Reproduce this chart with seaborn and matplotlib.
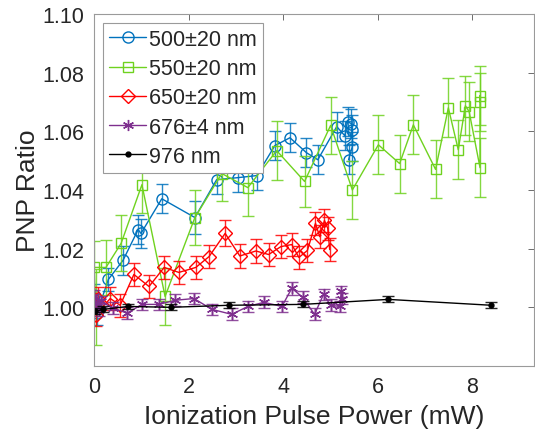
import numpy as np
import pandas as pd
import seaborn as sns
import matplotlib
matplotlib.use("Agg")
import matplotlib.pyplot as plt

# 500±20 nm
x_500 = [0.00, 0.06, 0.30, 0.61, 0.93, 0.99, 1.43, 2.13, 2.59, 3.04, 3.44, 3.82, 4.14, 4.49,
         4.73, 5.13, 5.30, 5.36, 5.44, 5.46, 5.46, 5.38]
y_500 = [1.0041, 0.9980, 1.0095, 1.0160, 1.0265, 1.0252, 1.0370, 1.0306, 1.0435, 1.0442, 1.0449,
         1.0551, 1.0578, 1.0527, 1.0503, 1.0616, 1.0585, 1.0633, 1.0626, 1.0605, 1.0548, 1.0503]
e_500 = [0.004, 0.004, 0.004, 0.005, 0.005, 0.005, 0.005, 0.0055, 0.005, 0.005, 0.005,
         0.005, 0.005, 0.005, 0.005, 0.005, 0.005, 0.005, 0.005, 0.005, 0.005, 0.005]

# 550±20 nm
x_550 = [0.03, 0.00, 0.25, 0.57, 1.01, 1.50, 2.13, 2.70, 3.25, 3.86, 4.45, 5.00, 5.46, 6.01,
         6.46, 6.75, 7.22, 7.49, 7.70, 7.85, 7.93, 8.16, 8.16, 8.16]
y_550 = [1.0000, 1.0136, 1.0136, 1.0218, 1.0418, 1.0037, 1.0306, 1.0456, 1.0408, 1.0534, 1.0429,
         1.0620, 1.0400, 1.0554, 1.0490, 1.0622, 1.0470, 1.0680, 1.0537, 1.0687, 1.0667, 1.0476,
         1.0721, 1.0700]
e_550 = [0.013, 0.009, 0.0095, 0.0095, 0.0095, 0.0097, 0.0095, 0.0095, 0.0097, 0.010, 0.0088,
         0.0097, 0.010, 0.010, 0.0099, 0.010, 0.0099, 0.010, 0.010, 0.010, 0.010, 0.010,
         0.010, 0.010]

# 650±20 nm
x_650 = [0.00, 0.08, 0.03, 0.34, 0.55, 0.84, 1.16, 1.48, 1.79, 2.15, 2.43, 2.77, 3.08, 3.42,
         3.69, 3.95, 4.18, 4.33, 4.51, 4.68, 4.77, 4.87, 4.94, 4.98]
y_650 = [1.0010, 1.0030, 0.9975, 1.0030, 1.0007, 1.0112, 1.0071, 1.0136, 1.0119, 1.0136, 1.0173,
         1.0252, 1.0175, 1.0192, 1.0180, 1.0207, 1.0214, 1.0170, 1.0194, 1.0286, 1.0241, 1.0296,
         1.0269, 1.0197]
e_650 = [0.004] * 11 + [0.0044] + [0.004] * 12

# 676±4 nm
x_676 = [0.00, 0.05, 0.10, 0.15, 0.40, 0.70, 1.01, 1.37, 1.71, 2.11, 2.49, 2.91, 3.25, 3.59,
         3.97, 4.18, 4.41, 4.66, 4.85, 5.00, 5.19, 5.23, 5.25]
y_676 = [1.0040, 1.0010, 0.9990, 1.0020, 0.9997, 0.9980, 1.0010, 1.0010, 1.0024, 1.0030, 0.9993,
         0.9976, 1.0003, 1.0017, 1.0003, 1.0065, 1.0034, 0.9976, 1.0044, 1.0007, 1.0003, 1.0054,
         1.0030]
e_676 = [0.002] * 15 + [0.0022] + [0.002] * 7

# 976 nm
x_976 = [0.02, 0.19, 0.72, 1.62, 2.85, 4.41, 6.22, 8.40]
y_976 = [0.9986, 0.9993, 1.0003, 1.0000, 1.0007, 1.0010, 1.0027, 1.0007]
e_976 = [0.001] * 8

labels = ["500\u00b120 nm", "550\u00b120 nm", "650\u00b120 nm", "676\u00b14 nm", "976 nm"]
xs = [x_500, x_550, x_650, x_676, x_976]
ys = [y_500, y_550, y_650, y_676, y_976]
es = [e_500, e_550, e_650, e_676, e_976]
colors = ["#0072BD", "#6FD21F", "#FF0000", "#7E2F8E", "#000000"]
markers = ["o", "s", "D", (6, 2, 0), "."]
msizes = [8, 7, 7, 8, 7]

frames = []
for lab, x, y, e in zip(labels, xs, ys, es):
    frames.append(pd.DataFrame({"power": x, "ratio": y, "err": e, "series": lab}))
df = pd.concat(frames, ignore_index=True)

sns.set_style("white")
plt.rcParams["font.family"] = ["Liberation Sans", "DejaVu Sans"]

fig = plt.figure(figsize=(5.35, 4.39), dpi=100)
ax = fig.add_axes([0.176, 0.164, 0.822, 0.802])

for lab, c, m, ms in zip(labels, colors, markers, msizes):
    d = df[df["series"] == lab]
    ax.errorbar(d["power"], d["ratio"], yerr=d["err"], fmt="none", ecolor=c,
                elinewidth=1.0, capsize=4, capthick=1.0, alpha=0.85)
    fc = c if lab == "976 nm" else "none"
    sns.lineplot(data=d, x="power", y="ratio", sort=False, estimator=None, ax=ax,
                 color=c, marker=m, markersize=ms, markerfacecolor=fc,
                 markeredgecolor=c, markeredgewidth=1.0, linewidth=1.0, label=lab)

ax.set_xlim(0, 9.3)
ax.set_ylim(0.98, 1.10)
ax.set_xticks([0, 2, 4, 6, 8])
ax.set_yticks([1.00, 1.02, 1.04, 1.06, 1.08, 1.10])
ax.yaxis.set_major_formatter(matplotlib.ticker.FormatStrFormatter("%.2f"))
ax.tick_params(direction="in", length=4, width=0.6, color="#555555", top=True, right=True,
               labelsize=15.5, labelcolor="#262626", pad=7)
for sp in ax.spines.values():
    sp.set_color("#9a9a9a")
    sp.set_linewidth(0.8)

ax.set_xlabel("Ionization Pulse Power (mW)", fontsize=19, color="#262626", labelpad=5)
ax.set_ylabel("PNP Ratio", fontsize=19, color="#262626", labelpad=2)

leg = ax.legend(loc="upper left", fontsize=15.5, frameon=True, fancybox=False, framealpha=1,
                edgecolor="#9a9a9a", handlelength=1.7, handletextpad=0.15, borderpad=0.3,
                labelspacing=0.38, borderaxespad=0.4)
leg.get_frame().set_linewidth(0.8)

fig.savefig("out.png", dpi=100)
